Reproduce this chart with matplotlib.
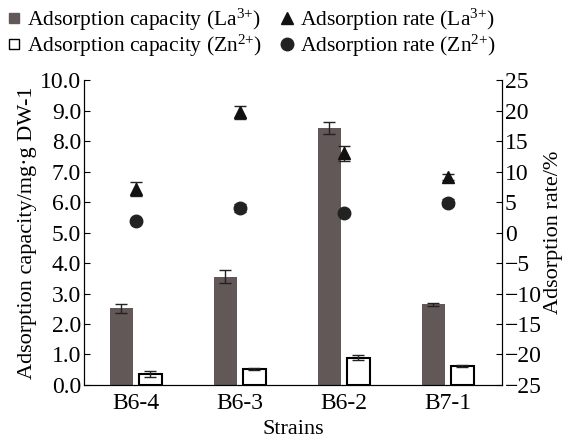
import numpy as np
import matplotlib
matplotlib.use("Agg")
import matplotlib.pyplot as plt
from matplotlib.lines import Line2D

plt.rcParams['font.family'] = ['Liberation Serif', 'DejaVu Serif']
plt.rcParams['mathtext.fontset'] = 'custom'
plt.rcParams['mathtext.rm'] = 'Liberation Serif'
plt.rcParams['mathtext.it'] = 'Liberation Serif:italic'
plt.rcParams['mathtext.bf'] = 'Liberation Serif:bold'

strains = ['B6-4', 'B6-3', 'B6-2', 'B7-1']
cap_la = [2.52, 3.55, 8.42, 2.65]
cap_la_err = [0.15, 0.21, 0.20, 0.05]
cap_zn = [0.36, 0.53, 0.90, 0.62]
cap_zn_err = [0.10, 0.03, 0.07, 0.03]
rate_la = [7.1, 19.7, 13.0, 9.1]
rate_la_err = [1.15, 1.05, 1.2, 0.55]
rate_zn = [1.9, 4.0, 3.25, 4.9]
rate_zn_err = [0.2, 0.7, 0.2, 0.6]

dark = '#625858'
x = np.arange(len(strains))
w = 0.22

fig = plt.figure(figsize=(5.71, 4.43), dpi=100)
ax = fig.add_axes([0.147, 0.131, 0.732, 0.688])
ax2 = ax.twinx()

ax.bar(x - 0.14, cap_la, w, color=dark, yerr=cap_la_err,
       error_kw=dict(ecolor='#222222', elinewidth=1, capsize=4, capthick=1))
ax.bar(x + 0.14, cap_zn, w, color='white', edgecolor='black', linewidth=1.5,
       yerr=cap_zn_err,
       error_kw=dict(ecolor='#222222', elinewidth=1, capsize=4, capthick=1))

ax2.errorbar(x, rate_la, yerr=rate_la_err, fmt='^', color='#111111',
             markersize=8, ecolor='#222222', elinewidth=1, capsize=4)
ax2.errorbar(x, rate_zn, yerr=rate_zn_err, fmt='o', color='#222222',
             markersize=9, ecolor='#222222', elinewidth=1, capsize=4)

ax.set_xlim(-0.5, 3.52)
ax.set_ylim(0, 10)
ax2.set_ylim(-25, 25)
ax.set_yticks(np.arange(0, 10.1, 1))
ax.set_yticklabels([f'{v:.1f}' for v in np.arange(0, 10.1, 1)])
ax2.set_yticks(np.arange(-25, 26, 5))
ax2.set_yticklabels([str(v).replace('-', '\u2212') for v in range(-25, 26, 5)])
ax.set_xticks(x)
ax.set_xticklabels(strains)

for a in (ax, ax2):
    a.spines['top'].set_visible(False)
    a.tick_params(labelsize=17, direction='in', length=4)
ax.tick_params(axis='x', length=0, pad=6)
ax.tick_params(axis='y', pad=2)
ax2.tick_params(axis='y', pad=2)

ax.set_xlabel('Strains', fontsize=16, labelpad=4)
ax.set_ylabel('Adsorption capacity/mg·g DW-1', fontsize=16, labelpad=2)
ax2.set_ylabel('Adsorption rate/%', fontsize=16, labelpad=2)

handles = [
    Line2D([], [], ls='', marker='s', color=dark, markersize=7),
    Line2D([], [], ls='', marker='s', markerfacecolor='white',
           markeredgecolor='black', markersize=7),
    Line2D([], [], ls='', marker='^', color='#111111', markersize=9),
    Line2D([], [], ls='', marker='o', color='#222222', markersize=9),
]
labels = ['Adsorption capacity (La$^{3{+}}$)', 'Adsorption capacity (Zn$^{2{+}}$)',
          'Adsorption rate (La$^{3{+}}$)', 'Adsorption rate (Zn$^{2{+}}$)']
fig.legend(handles, labels, ncol=2, loc='upper left', bbox_to_anchor=(0.005, 0.995),
           frameon=False, fontsize=15.5, handlelength=0.6, handletextpad=0.3,
           columnspacing=0.9, labelspacing=0.0, borderpad=0.1, borderaxespad=0.1)

fig.savefig('out.png', dpi=100)
